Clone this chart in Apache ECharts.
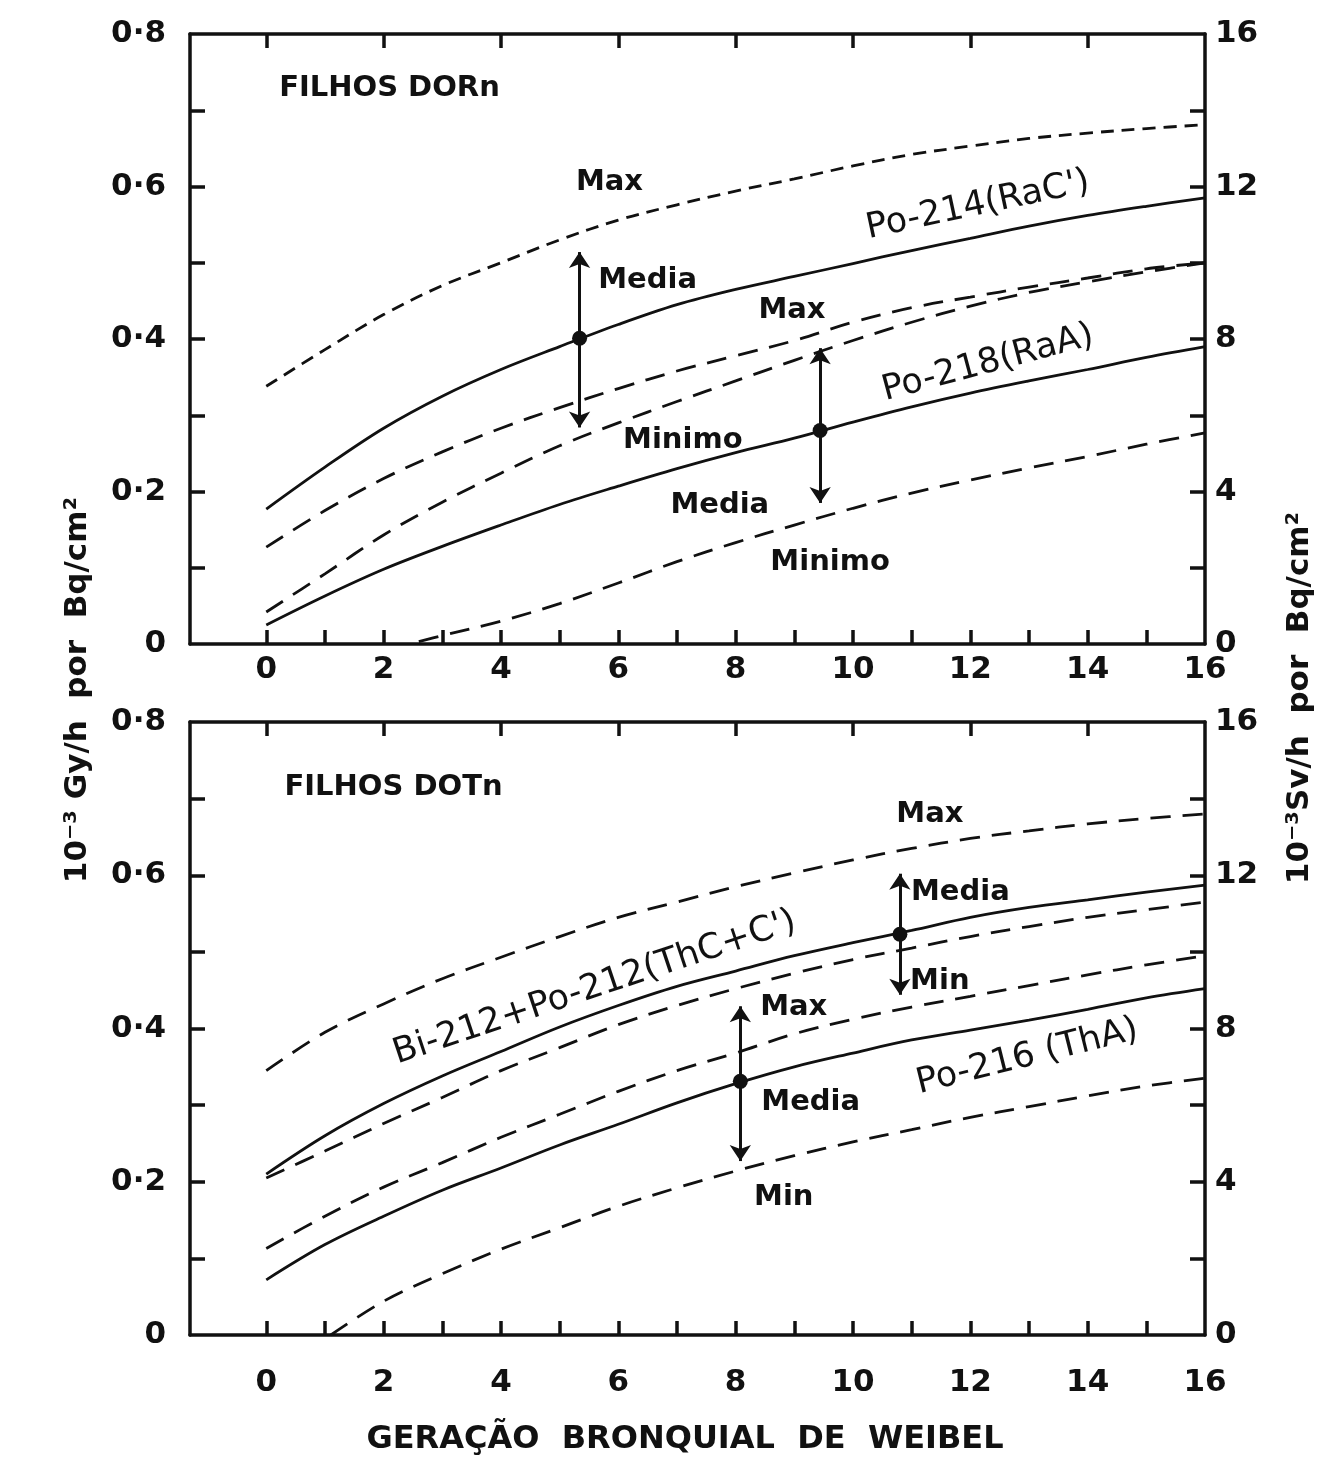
<!DOCTYPE html>
<html>
<head>
<meta charset="utf-8">
<title>Geração bronquial de Weibel</title>
<script src="https://cdn.jsdelivr.net/npm/echarts@6/dist/echarts.min.js"></script>
<style>
  html, body { margin: 0; padding: 0; background: #fff; }
  #main { width: 1331px; height: 1459px; }
</style>
</head>
<body>
<div id="main"></div>
<script>
// geração bronquial (eixo x)
var geracao = [0, 1, 2, 3, 4, 5, 6, 7, 8, 9, 10, 11, 12, 13, 14, 15, 16];

// filhos do Rn, 10^-3 Gy/h por Bq/cm2
var racMax   = [0.338, 0.386, 0.432, 0.470, 0.500, 0.530, 0.556, 0.576, 0.594, 0.610, 0.627, 0.642, 0.653, 0.663, 0.670, 0.676, 0.681];
var racMedia = [0.177, 0.232, 0.283, 0.325, 0.360, 0.390, 0.419, 0.445, 0.465, 0.482, 0.499, 0.516, 0.532, 0.548, 0.562, 0.574, 0.585];
var racMin   = [0.127, 0.175, 0.217, 0.252, 0.283, 0.310, 0.335, 0.358, 0.378, 0.398, 0.422, 0.441, 0.455, 0.468, 0.480, 0.492, 0.500];
var raaMax   = [0.042, 0.092, 0.143, 0.186, 0.224, 0.260, 0.290, 0.318, 0.345, 0.372, 0.398, 0.422, 0.443, 0.461, 0.475, 0.488, 0.500];
var raaMedia = [0.025, 0.063, 0.098, 0.128, 0.156, 0.183, 0.207, 0.230, 0.251, 0.270, 0.291, 0.311, 0.329, 0.345, 0.360, 0.376, 0.390];
var raaMinX  = [2.6, 3, 4, 5, 6, 7, 8, 9, 10, 11, 12, 13, 14, 15, 16];
var raaMin   = [0.003, 0.011, 0.030, 0.053, 0.080, 0.108, 0.133, 0.156, 0.178, 0.198, 0.215, 0.231, 0.246, 0.262, 0.277];

// filhos do Tn
var thcMax   = [0.345, 0.395, 0.432, 0.465, 0.493, 0.520, 0.545, 0.565, 0.585, 0.603, 0.620, 0.635, 0.648, 0.658, 0.667, 0.674, 0.680];
var thcMedia = [0.210, 0.260, 0.302, 0.338, 0.370, 0.402, 0.430, 0.455, 0.475, 0.495, 0.512, 0.528, 0.545, 0.558, 0.568, 0.578, 0.587];
var thcMin   = [0.205, 0.240, 0.276, 0.310, 0.345, 0.375, 0.405, 0.430, 0.452, 0.472, 0.490, 0.505, 0.520, 0.533, 0.545, 0.555, 0.565];
var thaMax   = [0.113, 0.155, 0.193, 0.225, 0.258, 0.288, 0.318, 0.345, 0.368, 0.393, 0.412, 0.428, 0.442, 0.456, 0.470, 0.483, 0.495];
var thaMedia = [0.072, 0.118, 0.155, 0.189, 0.218, 0.248, 0.275, 0.303, 0.328, 0.350, 0.368, 0.385, 0.398, 0.411, 0.425, 0.440, 0.452];
var thaMinX  = [1.1, 2, 3, 4, 5, 6, 7, 8, 9, 10, 11, 12, 13, 14, 15, 16];
var thaMin   = [0.000, 0.044, 0.080, 0.112, 0.140, 0.168, 0.192, 0.214, 0.234, 0.252, 0.268, 0.284, 0.298, 0.312, 0.325, 0.335];

// setas de variação: [geração, mínimo, média, máximo]
var setasRn = [[5.34, 0.284, 0.401, 0.514], [9.44, 0.185, 0.280, 0.388]];
var setasTn = [[10.8, 0.444, 0.523, 0.602], [8.08, 0.227, 0.331, 0.429]];

// textos dentro dos gráficos: [geração, valor, texto, rotação]
var textosRn = [
  [2.10, 0.729, 'FILHOS DORn', 0],
  [5.85, 0.605, 'Max', 0],
  [6.50, 0.477, 'Media', 0],
  [12.13, 0.575, "Po-214(RaC')", 12],
  [8.96, 0.438, 'Max', 0],
  [12.30, 0.368, 'Po-218(RaA)', 15],
  [7.10, 0.267, 'Minimo', 0],
  [7.73, 0.182, 'Media', 0],
  [9.61, 0.107, 'Minimo', 0]
];
var textosTn = [
  [2.17, 0.715, 'FILHOS DOTn', 0],
  [11.31, 0.679, 'Max', 0],
  [11.83, 0.578, 'Media', 0],
  [11.48, 0.461, 'Min', 0],
  [5.60, 0.453, "Bi-212+Po-212(ThC+C')", 18.5],
  [8.99, 0.428, 'Max', 0],
  [9.28, 0.303, 'Media', 0],
  [12.97, 0.363, 'Po-216 (ThA)', 14],
  [8.82, 0.180, 'Min', 0]
];

// marcas dos eixos
var xTicks = [0, 1, 2, 3, 4, 5, 6, 7, 8, 9, 10, 11, 12, 13, 14, 15];
var xTicksTopo = [0, 2, 4, 6, 8, 10, 12, 14];
var xRotulos = [0, 2, 4, 6, 8, 10, 12, 14, 16];
var yTicks = [0.1, 0.2, 0.3, 0.4, 0.5, 0.6, 0.7];
var yRotulos = [0, 0.2, 0.4, 0.6, 0.8];
var svTicks = [2, 4, 6, 8, 10, 12, 14];
var svRotulos = [0, 4, 8, 12, 16];

var preto = '#111';
var fonte = 'DejaVu Sans';

var chart = echarts.init(document.getElementById('main'));

function linhaEixo() {
  return { show: true, onZero: false, lineStyle: { color: preto, width: 3.5 } };
}
function eixoX(grid, margem) {
  return {
    type: 'value', gridIndex: grid, position: 'bottom', min: -1.3, max: 16,
    axisLine: linhaEixo(),
    axisTick: { show: true, inside: true, length: 14, customValues: xTicks, lineStyle: { color: preto, width: 3.5 } },
    axisLabel: { customValues: xRotulos, margin: margem, color: preto, fontSize: 31, fontWeight: 'bold', fontFamily: fonte },
    splitLine: { show: false }
  };
}
function eixoXTopo(grid) {
  return {
    type: 'value', gridIndex: grid, position: 'top', min: -1.3, max: 16,
    axisLine: linhaEixo(),
    axisTick: { show: true, inside: true, length: 14, customValues: xTicksTopo, lineStyle: { color: preto, width: 3.5 } },
    axisLabel: { show: false },
    splitLine: { show: false }
  };
}
function eixoGy(grid) {
  return {
    type: 'value', gridIndex: grid, position: 'left', min: 0, max: 0.8,
    axisLine: linhaEixo(),
    axisTick: { show: true, inside: true, length: 15, customValues: yTicks, lineStyle: { color: preto, width: 3.5 } },
    axisLabel: {
      customValues: yRotulos, margin: 24, color: preto, fontSize: 31, fontWeight: 'bold', fontFamily: fonte,
      formatter: function (v) { return v === 0 ? '0' : v.toFixed(1).replace('.', '·'); }
    },
    splitLine: { show: false }
  };
}
function eixoSv(grid) {
  return {
    type: 'value', gridIndex: grid, position: 'right', min: 0, max: 16,
    axisLine: linhaEixo(),
    axisTick: { show: true, inside: true, length: 15, customValues: svTicks, lineStyle: { color: preto, width: 3.5 } },
    axisLabel: { customValues: svRotulos, margin: 10, color: preto, fontSize: 31, fontWeight: 'bold', fontFamily: fonte },
    splitLine: { show: false }
  };
}

function curva(xs, ys, grid, tipo) {
  return {
    type: 'line', xAxisIndex: grid * 2, yAxisIndex: grid * 2,
    data: xs.map(function (x, i) { return [x, ys[i]]; }),
    showSymbol: false, smooth: 0.35, silent: true, z: 3,
    lineStyle: { color: preto, width: 2.8, type: tipo || 'solid' }
  };
}

function setas(lista, grid) {
  return {
    type: 'scatter', xAxisIndex: grid * 2, yAxisIndex: grid * 2,
    data: lista.map(function (s) { return [s[0], s[2]]; }),
    symbol: 'circle', symbolSize: 15, itemStyle: { color: preto, opacity: 1 }, silent: true, z: 5,
    markLine: {
      silent: true, symbol: ['arrow', 'arrow'], symbolSize: 16,
      label: { show: false },
      lineStyle: { color: preto, width: 3, type: 'solid', opacity: 1 },
      data: lista.map(function (s) { return [{ coord: [s[0], s[1]] }, { coord: [s[0], s[3]] }]; })
    }
  };
}

function textos(lista, grid) {
  return {
    type: 'scatter', xAxisIndex: grid * 2, yAxisIndex: grid * 2,
    symbolSize: 0, silent: true, z: 6, itemStyle: { opacity: 1 },
    data: lista.map(function (t) {
      var curva = t[3] !== 0;
      return {
        value: [t[0], t[1]],
        label: {
          show: true, position: 'inside', formatter: t[2], rotate: t[3],
          color: preto, opacity: 1, fontFamily: fonte,
          fontSize: curva ? 35 : 29, fontWeight: curva ? 'normal' : 'bold'
        }
      };
    })
  };
}

var dash = [20, 12];

var option = {
  animation: false,
  backgroundColor: '#fff',
  textStyle: { fontFamily: fonte, color: preto },
  grid: [
    { left: 190, top: 34, width: 1015, height: 610 },
    { left: 190, top: 722, width: 1015, height: 613 }
  ],
  xAxis: [eixoX(0, 10), eixoXTopo(0), eixoX(1, 32), eixoXTopo(1)],
  yAxis: [eixoGy(0), eixoSv(0), eixoGy(1), eixoSv(1)],
  series: [
    curva(geracao, racMax, 0, [13, 8]),
    curva(geracao, racMedia, 0),
    curva(geracao, racMin, 0, dash),
    curva(geracao, raaMax, 0, dash),
    curva(geracao, raaMedia, 0),
    curva(raaMinX, raaMin, 0, dash),
    setas(setasRn, 0),
    textos(textosRn, 0),
    curva(geracao, thcMax, 1, dash),
    curva(geracao, thcMedia, 1),
    curva(geracao, thcMin, 1, dash),
    curva(geracao, thaMax, 1, dash),
    curva(geracao, thaMedia, 1),
    curva(thaMinX, thaMin, 1, dash),
    setas(setasTn, 1),
    textos(textosTn, 1)
  ],
  graphic: [
    {
      type: 'text', x: 78, y: 690, rotation: Math.PI / 2,
      style: { text: '10⁻³ Gy/h  por  Bq/cm²', font: 'bold 31px "DejaVu Sans"', fill: preto, textAlign: 'center', textVerticalAlign: 'middle' }
    },
    {
      type: 'text', x: 1300, y: 698, rotation: Math.PI / 2,
      style: { text: '10⁻³Sv/h  por  Bq/cm²', font: 'bold 31px "DejaVu Sans"', fill: preto, textAlign: 'center', textVerticalAlign: 'middle' }
    },
    {
      type: 'text', x: 685, y: 1440,
      style: { text: 'GERAÇÃO  BRONQUIAL  DE  WEIBEL', font: 'bold 32px "DejaVu Sans"', fill: preto, textAlign: 'center', textVerticalAlign: 'middle' }
    }
  ]
};

chart.setOption(option);
</script>
</body>
</html>
